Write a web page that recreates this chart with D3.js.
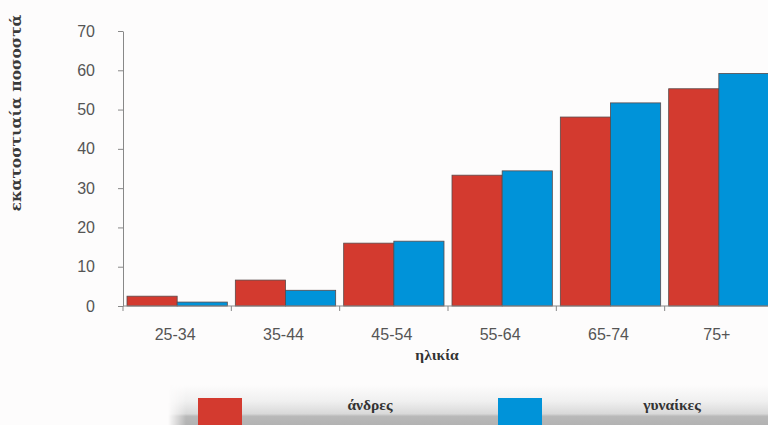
<!DOCTYPE html>
<html>
<head>
<meta charset="utf-8">
<script src="https://cdn.jsdelivr.net/npm/d3@7"></script>
<style>
  html, body { margin: 0; padding: 0; background: #fdfcfc; }
  svg { display: block; }
</style>
</head>
<body>
<svg id="chart" width="768" height="425"></svg>
<script>
// Age groups and percentages per sex
const ageGroups = ["25-34", "35-44", "45-54", "55-64", "65-74", "75+"];
const men   = [2.5, 6.6, 16.0, 33.3, 48.1, 55.3];
const women = [1.0, 4.0, 16.5, 34.4, 51.7, 59.2];
const seriesNames = ["άνδρες", "γυναίκες"];
const seriesColors = ["#d33a2f", "#0093d9"];
const yTicks = [0, 10, 20, 30, 40, 50, 60, 70];

const svg = d3.select("#chart");
const W = 768, H = 425;

const margin = { left: 123, top: 31, right: -5, bottom: 119 };
const plotW = W - margin.left - margin.right;
const plotH = H - margin.top - margin.bottom;

const x0 = d3.scaleBand().domain(ageGroups).range([0, plotW]).padding(0);
const x1 = d3.scaleBand().domain(seriesNames).range([4, x0.bandwidth() - 4]).padding(0);
const y = d3.scaleLinear().domain([0, 70]).range([plotH, 0]);

const defs = svg.append("defs");
const grad = defs.append("linearGradient").attr("id", "legendBg")
  .attr("x1", 0).attr("y1", 0).attr("x2", 0).attr("y2", 1);
grad.append("stop").attr("offset", "0%").attr("stop-color", "#fdfcfc");
grad.append("stop").attr("offset", "40%").attr("stop-color", "#f0f0f0");
grad.append("stop").attr("offset", "72%").attr("stop-color", "#d9d9d9");
grad.append("stop").attr("offset", "78%").attr("stop-color", "#b9b9b9");
grad.append("stop").attr("offset", "100%").attr("stop-color", "#b2b2b2");
const gradL = defs.append("linearGradient").attr("id", "legendFade")
  .attr("x1", 0).attr("y1", 0).attr("x2", 1).attr("y2", 0);
gradL.append("stop").attr("offset", "0%").attr("stop-color", "#fff").attr("stop-opacity", 0);
gradL.append("stop").attr("offset", "3%").attr("stop-color", "#fff").attr("stop-opacity", 1);
gradL.append("stop").attr("offset", "100%").attr("stop-color", "#fff").attr("stop-opacity", 1);
const mask = defs.append("mask").attr("id", "legendMask");
mask.append("rect").attr("x", 168).attr("y", 385).attr("width", 600).attr("height", 40)
  .attr("fill", "url(#legendFade)");

const g = svg.append("g").attr("transform", `translate(${margin.left},${margin.top})`);

// Bars
const groups = g.selectAll("g.grp").data(ageGroups).join("g")
  .attr("class", "grp")
  .attr("transform", d => `translate(${x0(d)},0)`);

groups.selectAll("rect")
  .data((d, i) => [
    { key: seriesNames[0], value: men[i], color: seriesColors[0] },
    { key: seriesNames[1], value: women[i], color: seriesColors[1] }
  ])
  .join("rect")
  .attr("x", d => x1(d.key))
  .attr("width", x1.bandwidth())
  .attr("y", d => y(d.value))
  .attr("height", d => y(0) - y(d.value))
  .attr("fill", d => d.color)
  .attr("stroke", "#5a4a4a")
  .attr("stroke-width", 0.8);

// Y axis
const yAxis = g.append("g")
  .call(d3.axisLeft(y).tickValues(yTicks).tickSize(5).tickPadding(23).tickSizeOuter(0));
yAxis.select(".domain").attr("stroke", "#888");
yAxis.selectAll(".tick line").attr("stroke", "#888");
yAxis.selectAll("text")
  .attr("fill", "#555").attr("font-family", "Liberation Sans, Arial, sans-serif")
  .attr("font-size", 16).attr("text-anchor", "end");

// X axis: ticks at group boundaries
const xAxisG = g.append("g").attr("transform", `translate(0,${plotH})`);
xAxisG.append("line").attr("x1", 0).attr("x2", plotW).attr("stroke", "#888");
xAxisG.selectAll("line.tk").data(ageGroups).join("line")
  .attr("class", "tk")
  .attr("x1", d => x0(d)).attr("x2", d => x0(d))
  .attr("y1", 0).attr("y2", 5).attr("stroke", "#888");
xAxisG.selectAll("text").data(ageGroups).join("text")
  .attr("x", d => x0(d) + x0.bandwidth() / 2 - 2)
  .attr("y", 34)
  .attr("text-anchor", "middle")
  .attr("fill", "#555")
  .attr("font-family", "Liberation Sans, Arial, sans-serif")
  .attr("font-size", 16)
  .text(d => d);

// Axis titles
svg.append("text")
  .attr("transform", "translate(21,113) rotate(-90)")
  .attr("text-anchor", "middle")
  .attr("fill", "#3a3a3a")
  .attr("font-family", "DejaVu Serif, serif")
  .attr("font-weight", "bold")
  .attr("font-size", 15.5)
  .text("εκατοστιαία ποσοστά");

svg.append("text")
  .attr("x", 437).attr("y", 360)
  .attr("text-anchor", "middle")
  .attr("fill", "#333")
  .attr("font-family", "Liberation Serif, serif")
  .attr("font-weight", "bold")
  .attr("font-size", 15.5)
  .text("ηλικία");

// Legend
const lg = svg.append("g").attr("mask", "url(#legendMask)");
lg.append("rect").attr("x", 168).attr("y", 385).attr("width", 600).attr("height", 40)
  .attr("fill", "url(#legendBg)");

const legendItems = [
  { name: seriesNames[0], color: seriesColors[0], sx: 198, tx: 370 },
  { name: seriesNames[1], color: seriesColors[1], sx: 498, tx: 672 }
];
const li = svg.append("g").selectAll("g").data(legendItems).join("g");
li.append("rect")
  .attr("x", d => d.sx).attr("y", 398)
  .attr("width", 44).attr("height", 27)
  .attr("fill", d => d.color);
li.append("text")
  .attr("x", d => d.tx).attr("y", 410)
  .attr("text-anchor", "middle")
  .attr("fill", "#333")
  .attr("font-family", "Liberation Serif, serif")
  .attr("font-weight", "bold")
  .attr("font-size", 15.5)
  .text(d => d.name);
</script>
</body>
</html>
